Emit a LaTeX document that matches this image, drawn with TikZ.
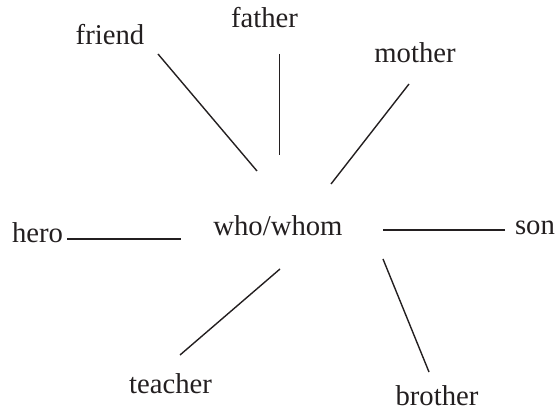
\documentclass[tikz,border=0pt]{standalone}
\usepackage{fontspec}
\setmainfont{Liberation Serif}
\definecolor{ink}{HTML}{231F20}
\begin{document}
\begin{tikzpicture}[x=1pt,y=-1pt,
  word/.style={anchor=base,inner sep=0pt,text=ink,font=\fontsize{28.7}{32}\selectfont},
  spoke/.style={draw=ink,line width=1.4pt}]
\useasboundingbox (0,0) rectangle (557,411);
% words
\node[word] (who) at (278,236) {who/whom};
\node[word] (friend) at (110,45) {friend};
\node[word] (father) at (264.5,28) {father};
\node[word] (mother) at (415,63) {mother};
\node[word] (hero) at (37.5,243) {hero};
\node[word] (son) at (535,235) {son};
\node[word] (teacher) at (170.5,394) {teacher};
\node[word] (brother) at (437,406) {brother};
% spoke ends
\coordinate (friendA) at (158,54);   \coordinate (friendB) at (257,171);
\coordinate (fatherA) at (279.7,54); \coordinate (fatherB) at (279.7,155);
\coordinate (motherA) at (409,84);   \coordinate (motherB) at (331,184);
\coordinate (heroA) at (67,239);     \coordinate (heroB) at (181,239);
\coordinate (sonA) at (505,230);     \coordinate (sonB) at (383,230);
\coordinate (teacherA) at (180,355); \coordinate (teacherB) at (280,269);
\coordinate (brotherA) at (429,372); \coordinate (brotherB) at (383,259);
% spokes
\draw[spoke] (friendA) -- (friendB);
\draw[spoke] (fatherA) -- (fatherB);
\draw[spoke] (motherA) -- (motherB);
\draw[spoke] (heroA) -- (heroB);
\draw[spoke] (sonA) -- (sonB);
\draw[spoke] (teacherA) -- (teacherB);
\draw[spoke] (brotherA) -- (brotherB);
\end{tikzpicture}
\end{document}
